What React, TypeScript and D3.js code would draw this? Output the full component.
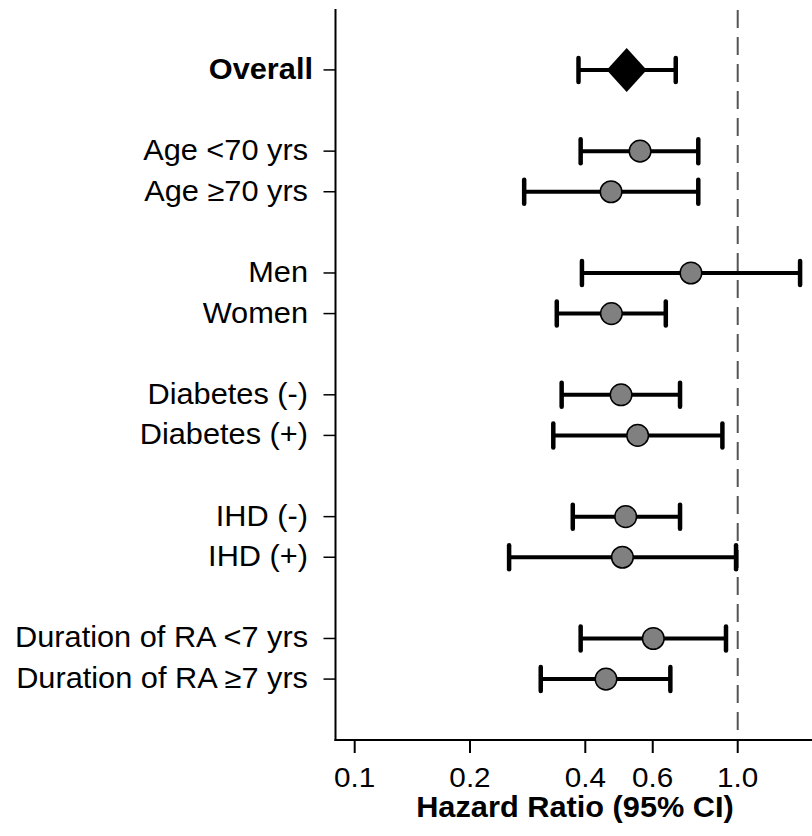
import React from "react";
import * as d3 from "d3";

// Subgroup hazard ratios with 95% confidence intervals
const labels = [
  "Overall",
  "Age <70 yrs",
  "Age \u226570 yrs",
  "Men",
  "Women",
  "Diabetes (-)",
  "Diabetes (+)",
  "IHD (-)",
  "IHD (+)",
  "Duration of RA <7 yrs",
  "Duration of RA \u22657 yrs",
];
const rowIndex = [0, 2, 3, 5, 6, 8, 9, 11, 12, 14, 15];
const hr = [0.513, 0.556, 0.467, 0.755, 0.468, 0.496, 0.548, 0.51, 0.5, 0.602, 0.453];
const lower = [0.384, 0.389, 0.277, 0.392, 0.337, 0.347, 0.33, 0.371, 0.253, 0.389, 0.306];
const upper = [0.689, 0.789, 0.789, 1.455, 0.649, 0.707, 0.912, 0.707, 0.99, 0.932, 0.667];
const tickValues = [0.1, 0.2, 0.4, 0.6, 1.0];
const tickLabels = ["0.1", "0.2", "0.4", "0.6", "1.0"];

const W = 812;
const H = 836;
const FONT = "'Liberation Sans', Arial, sans-serif";
const STRETCH = 1.06;

export default function App() {
  const x = d3.scaleLog().domain([0.0891, 1.563]).range([335.5, 812]);
  const y = d3.scaleLinear().domain([-1.5, 16.5]).range([9, 740]);
  const axisX = x.range()[0];
  const axisY = y.range()[1];
  const capH = 12;

  return (
    <div style={{ position: "absolute", left: 0, top: 0 }}>
      <svg width={W} height={H} style={{ display: "block", background: "#fff" }}>
        {/* reference line at HR = 1 */}
        <line
          x1={x(1)}
          x2={x(1)}
          y1={y(-1.5) + 1}
          y2={axisY}
          stroke="#555"
          strokeWidth={2}
          strokeDasharray="18 9"
        />

        {/* axes */}
        <line x1={axisX} x2={axisX} y1={y(-1.5)} y2={axisY + 1} stroke="#000" strokeWidth={2} />
        <line x1={axisX - 1} x2={W} y1={axisY} y2={axisY} stroke="#000" strokeWidth={2} />

        {tickValues.map((v, i) => (
          <g key={"xt" + i}>
            <line x1={x(v)} x2={x(v)} y1={axisY} y2={axisY + 13} stroke="#000" strokeWidth={2} />
            <text
              transform={`translate(${x(v)},787) scale(${STRETCH},1)`}
              textAnchor="middle"
              fontFamily={FONT}
              fontSize={28}
              fill="#000"
            >
              {tickLabels[i]}
            </text>
          </g>
        ))}
        <text
          transform={`translate(575,817) scale(${STRETCH},1)`}
          textAnchor="middle"
          fontFamily={FONT}
          fontSize={29}
          fontWeight="bold"
          fill="#000"
        >
          Hazard Ratio (95% CI)
        </text>

        {labels.map((lab, i) => {
          const yy = y(rowIndex[i]);
          const bold = i === 0;
          return (
            <g key={"row" + i}>
              <line x1={axisX - 12} x2={axisX} y1={yy} y2={yy} stroke="#000" strokeWidth={1.5} />
              <text
                transform={`translate(${bold ? 313 : 308},${yy + 9}) scale(${STRETCH},1)`}
                textAnchor="end"
                fontFamily={FONT}
                fontSize={29}
                fontWeight={bold ? "bold" : "normal"}
                fill="#000"
              >
                {lab}
              </text>
              {/* confidence interval */}
              <line
                x1={x(lower[i])}
                x2={x(upper[i])}
                y1={yy}
                y2={yy}
                stroke="#000"
                strokeWidth={4}
              />
              <line
                x1={x(lower[i])}
                x2={x(lower[i])}
                y1={yy - capH}
                y2={yy + capH}
                stroke="#000"
                strokeWidth={4.5}
                strokeLinecap="round"
              />
              <line
                x1={x(upper[i])}
                x2={x(upper[i])}
                y1={yy - capH}
                y2={yy + capH}
                stroke="#000"
                strokeWidth={4.5}
                strokeLinecap="round"
              />
              {bold ? (
                <path
                  d={`M${x(hr[i]) - 20},${yy} L${x(hr[i])},${yy - 22} L${x(hr[i]) + 20},${yy} L${x(hr[i])},${yy + 22} Z`}
                  fill="#000"
                />
              ) : (
                <circle cx={x(hr[i])} cy={yy} r={10.8} fill="#808080" stroke="#000" strokeWidth={1.5} />
              )}
            </g>
          );
        })}
      </svg>
    </div>
  );
}
